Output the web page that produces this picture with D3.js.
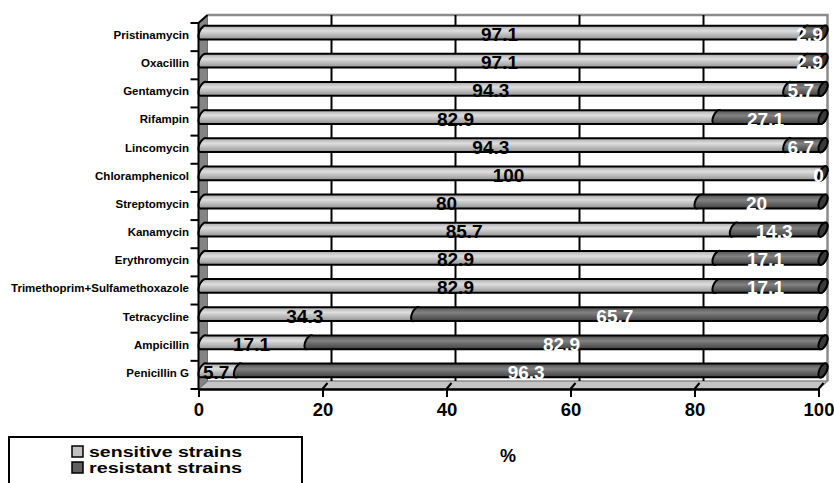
<!DOCTYPE html>
<html>
<head>
<meta charset="utf-8">
<script src="https://cdnjs.cloudflare.com/ajax/libs/d3/7.8.5/d3.min.js"></script>
<style>
  html, body { margin: 0; padding: 0; background: #fff; }
  svg { display: block; font-family: "Liberation Sans", Arial, sans-serif; }
</style>
</head>
<body>
<svg id="chart" width="834" height="483"></svg>
<script>
const categories = ["Pristinamycin", "Oxacillin", "Gentamycin", "Rifampin", "Lincomycin",
  "Chloramphenicol", "Streptomycin", "Kanamycin", "Erythromycin",
  "Trimethoprim+Sulfamethoxazole", "Tetracycline", "Ampicillin", "Penicillin G"];
const sensitive = [97.1, 97.1, 94.3, 82.9, 94.3, 100, 80, 85.7, 82.9, 82.9, 34.3, 17.1, 5.7];
const resistant = [2.9, 2.9, 5.7, 27.1, 6.7, 0, 20, 14.3, 17.1, 17.1, 65.7, 82.9, 96.3];
const seriesNames = ["sensitive strains", "resistant strains"];
const xTicks = [0, 20, 40, 60, 80, 100];
const axisTitle = "%";

const svg = d3.select("#chart");
const pLeft = 198.5, pRight = 818.5, pTop = 23, pBottom = 389;
const dx = 9, dy = -8;           // 3D depth offset
const x = d3.scaleLinear().domain([0, 100]).range([pLeft, pRight]);
const y = d3.scaleBand().domain(categories).range([pTop, pBottom]).paddingInner(0).paddingOuter(0);

// gradients
const defs = svg.append("defs");
function grad(id, stops) {
  const g = defs.append("linearGradient").attr("id", id)
    .attr("x1", 0).attr("y1", 0).attr("x2", 0).attr("y2", 1);
  stops.forEach(s => g.append("stop").attr("offset", s[0]).attr("stop-color", s[1]));
}
grad("gS", [[0, "#9a9a9a"], [0.18, "#c4c4c4"], [0.38, "#dedede"], [0.55, "#c8c8c8"], [0.8, "#aaaaaa"], [1, "#8a8a8a"]]);
grad("gR", [[0, "#454545"], [0.2, "#6a6a6a"], [0.4, "#828282"], [0.58, "#6c6c6c"], [0.8, "#555555"], [1, "#3c3c3c"]]);

// back wall
svg.append("path")
  .attr("d", `M${pLeft + dx},${pTop + dy} L${pRight + dx},${pTop + dy} L${pRight + dx},${pBottom + dy}`)
  .attr("fill", "none").attr("stroke", "#8c8c8c").attr("stroke-width", 2.5);
// floor
svg.append("path")
  .attr("d", `M${pLeft},${pBottom} L${pLeft + dx},${pBottom + dy} L${pRight + dx},${pBottom + dy} L${pRight},${pBottom} Z`)
  .attr("fill", "#c4c4c4").attr("stroke", "#8c8c8c").attr("stroke-width", 1.5);
// gridlines on back wall
svg.append("g").selectAll("line").data(xTicks.filter(v => v > 0 && v < 100)).join("line")
  .attr("x1", d => x(d) + dx).attr("x2", d => x(d) + dx)
  .attr("y1", pTop + dy).attr("y2", pBottom + dy)
  .attr("stroke", "#000").attr("stroke-width", 2);
// left wall
svg.append("path")
  .attr("d", `M${pLeft},${pBottom} L${pLeft},${pTop} L${pLeft + dx},${pTop + dy} L${pLeft + dx},${pBottom + dy} Z`)
  .attr("fill", "#848484").attr("stroke", "#6e6e6e").attr("stroke-width", 1);
svg.append("line").attr("x1", pLeft).attr("y1", pTop).attr("x2", pLeft + dx).attr("y2", pTop + dy)
  .attr("stroke", "#000").attr("stroke-width", 2);

// bars (cylinders)
const rx = 3.6, ry = 7.6, rot = 25;
const ex = 3.21, ey = 6.89;
function cylPath(a, b, cy) {
  return `M${a + ex},${cy - ey} L${b + ex},${cy - ey} A${rx} ${ry} ${rot} 0 1 ${b - ex},${cy + ey} ` +
         `L${a - ex},${cy + ey} A${rx} ${ry} ${rot} 0 1 ${a + ex},${cy - ey} Z`;
}
const rows = categories.map((c, i) => ({ c, s: sensitive[i], r: resistant[i] }));
const off = 4.5;   // cylinder centre depth
const bars = svg.append("g");
rows.forEach(d => {
  const cy = y(d.c) + y.bandwidth() / 2 - 4.5;
  const a = x(0) + off, m = x(Math.min(d.s, 100)) + off, b = x(Math.min(d.s + d.r, 100)) + off;
  bars.append("path").attr("d", cylPath(a, m, cy)).attr("fill", "url(#gS)")
    .attr("stroke", "#000").attr("stroke-width", 2);
  bars.append("path").attr("d", cylPath(m, b, cy)).attr("fill", "url(#gR)")
    .attr("stroke", "#000").attr("stroke-width", 2);
  bars.append("ellipse").attr("cx", 0).attr("cy", 0).attr("rx", rx).attr("ry", ry)
    .attr("transform", `translate(${b},${cy}) rotate(${rot})`)
    .attr("fill", "#3a3a3a").attr("stroke", "#000").attr("stroke-width", 2);
});

// value labels
const labels = svg.append("g").attr("font-weight", "bold").attr("font-size", 19).attr("text-anchor", "middle");
rows.forEach(d => {
  const cy = y(d.c) + y.bandwidth() / 2 - 4.5;
  const sEnd = Math.min(d.s, 100), rEnd = Math.min(d.s + d.r, 100);
  labels.append("text").attr("x", x(sEnd / 2)).attr("y", cy + 8.5).attr("fill", "#000").text(d.s);
  labels.append("text").attr("x", x((sEnd + rEnd) / 2)).attr("y", cy + 8.5).attr("fill", "#fff").text(d.r);
});

// y axis: line, boundary ticks, category labels
svg.append("line").attr("x1", pLeft).attr("x2", pLeft).attr("y1", pTop).attr("y2", pBottom)
  .attr("stroke", "#000").attr("stroke-width", 2);
svg.append("g").selectAll("line").data(categories.map(c => y(c)).concat([pBottom])).join("line")
  .attr("x1", pLeft - 8).attr("x2", pLeft).attr("y1", d => d).attr("y2", d => d)
  .attr("stroke", "#000").attr("stroke-width", 2);
const yAxis = svg.append("g").attr("transform", `translate(${pLeft},-1.8)`)
  .call(d3.axisLeft(y).tickSize(0).tickPadding(9.5));
yAxis.select(".domain").remove();
yAxis.selectAll("text").attr("font-size", 11.5).attr("font-weight", "bold")
  .attr("font-family", "'Liberation Sans', Arial, sans-serif").attr("fill", "#000");

// x axis
svg.append("g").selectAll("line").data(xTicks.filter(v => v > 0)).join("line")
  .attr("x1", d => x(d)).attr("y1", pBottom).attr("x2", d => x(d) + 5).attr("y2", pBottom - 6)
  .attr("stroke", "#000").attr("stroke-width", 2);
const xAxis = svg.append("g").attr("transform", `translate(0,${pBottom})`)
  .call(d3.axisBottom(x).tickValues(xTicks).tickSize(8).tickSizeOuter(0).tickPadding(6));
xAxis.select(".domain").attr("stroke", "#000").attr("stroke-width", 2.5);
xAxis.selectAll(".tick line").attr("stroke", "#000").attr("stroke-width", 2);
xAxis.selectAll("text").attr("font-size", 18.5).attr("font-weight", "bold")
  .attr("font-family", "'Liberation Sans', Arial, sans-serif").attr("fill", "#000");

svg.append("text").attr("x", 508).attr("y", 461.5).attr("text-anchor", "middle")
  .attr("font-size", 18).attr("font-weight", "bold").text(axisTitle);

// legend
const lg = svg.append("g");
lg.append("rect").attr("x", 9).attr("y", 437).attr("width", 293).attr("height", 60)
  .attr("fill", "#fff").attr("stroke", "#000").attr("stroke-width", 2);
const legFill = ["#c0c0c0", "#606060"];
seriesNames.forEach((n, i) => {
  const yy = 446 + i * 16;
  lg.append("rect").attr("x", 72).attr("y", yy).attr("width", 11).attr("height", 11)
    .attr("fill", legFill[i]).attr("stroke", "#000").attr("stroke-width", 1.5);
  lg.append("text").attr("x", 89).attr("y", yy + 11).attr("font-size", 14.5).attr("font-weight", "bold")
    .attr("textLength", 153).attr("lengthAdjust", "spacingAndGlyphs").text(n);
});
</script>
</body>
</html>
